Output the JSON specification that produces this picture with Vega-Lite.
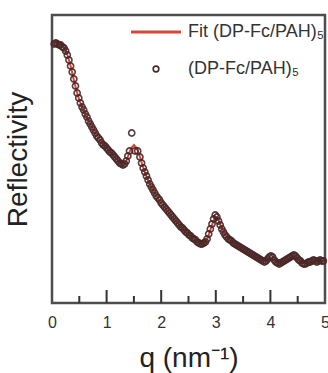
{
  "$schema": "https://vega.github.io/schema/vega-lite/v6.json",
  "width": 273,
  "height": 288,
  "autosize": {"type": "none"},
  "padding": {"left": 52, "top": 15, "right": 3, "bottom": 70},
  "background": "white",
  "config": {
    "view": {"stroke": "#4d4d4d", "strokeWidth": 2.5},
    "font": "Liberation Sans"
  },
  "layer": [
    {
      "data": {"values": [
        {"q":0.02,"r":260},{"q":0.05,"r":260},{"q":0.1,"r":259},{"q":0.15,"r":259},{"q":0.2,"r":257},{"q":0.25,"r":253},{"q":0.3,"r":245},{"q":0.35,"r":235},{"q":0.4,"r":223},{"q":0.45,"r":212},{"q":0.5,"r":203},{"q":0.55,"r":196},{"q":0.6,"r":190},{"q":0.65,"r":184},{"q":0.7,"r":179},{"q":0.75,"r":174},{"q":0.8,"r":169},{"q":0.85,"r":165},{"q":0.9,"r":161},{"q":0.95,"r":158},{"q":1.0,"r":155},{"q":1.05,"r":152},{"q":1.1,"r":149},{"q":1.15,"r":146},{"q":1.2,"r":143},{"q":1.25,"r":140},{"q":1.3,"r":138},{"q":1.35,"r":140},{"q":1.4,"r":148},{"q":1.45,"r":155},{"q":1.5,"r":158},{"q":1.55,"r":155},{"q":1.6,"r":148},{"q":1.65,"r":139},{"q":1.7,"r":131},{"q":1.75,"r":124},{"q":1.8,"r":118},{"q":1.85,"r":113},{"q":1.9,"r":108},{"q":1.95,"r":104},{"q":2.0,"r":100},{"q":2.1,"r":93},{"q":2.2,"r":86},{"q":2.3,"r":80},{"q":2.4,"r":74},{"q":2.5,"r":69},{"q":2.6,"r":64},{"q":2.7,"r":60},{"q":2.75,"r":59},{"q":2.8,"r":60},{"q":2.85,"r":65},{"q":2.9,"r":73},{"q":2.95,"r":81},{"q":3.0,"r":86},{"q":3.05,"r":83},{"q":3.1,"r":76},{"q":3.15,"r":70},{"q":3.2,"r":66},{"q":3.3,"r":61},{"q":3.4,"r":57},{"q":3.5,"r":54},{"q":3.6,"r":50},{"q":3.7,"r":47},{"q":3.8,"r":44},{"q":3.9,"r":42},{"q":4.0,"r":44},{"q":4.1,"r":42},{"q":4.2,"r":40},{"q":4.3,"r":43},{"q":4.4,"r":46},{"q":4.5,"r":44},{"q":4.6,"r":40},{"q":4.7,"r":40},{"q":4.8,"r":42},{"q":4.9,"r":42},{"q":5.0,"r":42}
      ]},
      "mark": {"type": "line", "strokeWidth": 2, "clip": true},
      "encoding": {
        "x": {
          "field": "q", "type": "quantitative",
          "scale": {"domain": [0, 5], "nice": false, "zero": false},
          "axis": {
            "values": [0, 1, 2, 3, 4, 5],
            "ticks": false,
            "domain": false,
            "grid": false,
            "labelFlush": false,
            "labelFont": "Liberation Sans",
            "labelFontSize": 16,
            "labelColor": "#333333",
            "labelPadding": 11,
            "title": "q (nm⁻¹)",
            "titleFont": "Liberation Sans",
            "titleFontSize": 28,
            "titleFontWeight": "normal",
            "titleColor": "#222222",
            "titlePadding": 14
          }
        },
        "y": {
          "field": "r", "type": "quantitative",
          "scale": {"domain": [0, 288], "nice": false},
          "axis": {
            "ticks": false, "labels": false, "domain": false, "grid": false,
            "title": "Reflectivity",
            "titleFont": "Liberation Sans",
            "titleFontSize": 28,
            "titleFontWeight": "normal",
            "titleColor": "#222222",
            "titlePadding": 20
          }
        },
        "color": {
          "datum": "Fit (DP-Fc/PAH)₅",
          "type": "nominal",
          "scale": {"domain": ["Fit (DP-Fc/PAH)₅", "(DP-Fc/PAH)₅"], "range": ["#d8473a", "#4a2828"]},
          "legend": {
            "title": null,
            "orient": "none",
            "legendX": 95,
            "legendY": 8,
            "padding": 0,
            "labelFont": "Liberation Sans",
            "labelFontSize": 18,
            "labelColor": "#333333",
            "symbolSize": 100,
            "rowPadding": 19,
            "labelOffset": 23,
            "encode": {
              "symbols": {
                "update": {
                  "shape": {"signal": "datum.value === 'Fit (DP-Fc/PAH)₅' ? 'stroke' : 'circle'"},
                  "size": {"signal": "datum.value === 'Fit (DP-Fc/PAH)₅' ? 2500 : 32"},
                  "strokeWidth": {"signal": "datum.value === 'Fit (DP-Fc/PAH)₅' ? 3 : 1.6"},
                  "fill": {"value": "transparent"}
                }
              }
            }
          }
        }
      }
    },
    {
      "data": {"values": [
        {"q":0.04,"r":259},{"q":0.07,"r":260},{"q":0.10,"r":259},{"q":0.13,"r":258},{"q":0.16,"r":258},{"q":0.19,"r":256},{"q":0.22,"r":255},{"q":0.25,"r":252},{"q":0.28,"r":248},{"q":0.31,"r":243},{"q":0.34,"r":237},{"q":0.37,"r":231},{"q":0.40,"r":224},{"q":0.43,"r":217},{"q":0.46,"r":210},{"q":0.49,"r":205},{"q":0.52,"r":200},{"q":0.55,"r":196},{"q":0.58,"r":193},{"q":0.61,"r":189},{"q":0.64,"r":186},{"q":0.67,"r":182},{"q":0.70,"r":179},{"q":0.73,"r":176},{"q":0.76,"r":173},{"q":0.79,"r":170},{"q":0.82,"r":167},{"q":0.85,"r":165},{"q":0.88,"r":163},{"q":0.91,"r":160},{"q":0.94,"r":158},{"q":0.97,"r":157},{"q":1.00,"r":155},{"q":1.03,"r":153},{"q":1.06,"r":151},{"q":1.09,"r":150},{"q":1.12,"r":148},{"q":1.15,"r":146},{"q":1.18,"r":144},{"q":1.21,"r":142},{"q":1.24,"r":140},{"q":1.27,"r":139},{"q":1.30,"r":138},{"q":1.33,"r":139},{"q":1.36,"r":142},{"q":1.39,"r":147},{"q":1.42,"r":152},{"q":1.46,"r":170},{"q":1.52,"r":152},{"q":1.57,"r":152},{"q":1.61,"r":146},{"q":1.64,"r":140},{"q":1.67,"r":135},{"q":1.70,"r":131},{"q":1.73,"r":127},{"q":1.76,"r":123},{"q":1.79,"r":119},{"q":1.82,"r":116},{"q":1.85,"r":113},{"q":1.88,"r":110},{"q":1.91,"r":107},{"q":1.94,"r":105},{"q":1.97,"r":103},{"q":2.00,"r":100},{"q":2.03,"r":98},{"q":2.06,"r":96},{"q":2.09,"r":94},{"q":2.12,"r":92},{"q":2.15,"r":90},{"q":2.18,"r":88},{"q":2.21,"r":86},{"q":2.24,"r":84},{"q":2.27,"r":82},{"q":2.30,"r":80},{"q":2.33,"r":78},{"q":2.36,"r":76},{"q":2.39,"r":75},{"q":2.42,"r":73},{"q":2.45,"r":71},{"q":2.48,"r":70},{"q":2.51,"r":68},{"q":2.54,"r":67},{"q":2.57,"r":65},{"q":2.60,"r":64},{"q":2.63,"r":63},{"q":2.66,"r":61},{"q":2.69,"r":60},{"q":2.72,"r":59},{"q":2.75,"r":59},{"q":2.78,"r":60},{"q":2.81,"r":61},{"q":2.84,"r":64},{"q":2.87,"r":69},{"q":2.90,"r":74},{"q":2.93,"r":79},{"q":2.96,"r":84},{"q":2.99,"r":88},{"q":3.02,"r":86},{"q":3.05,"r":82},{"q":3.08,"r":78},{"q":3.11,"r":74},{"q":3.14,"r":71},{"q":3.17,"r":68},{"q":3.20,"r":66},{"q":3.23,"r":64},{"q":3.26,"r":63},{"q":3.29,"r":62},{"q":3.32,"r":60},{"q":3.35,"r":59},{"q":3.38,"r":58},{"q":3.41,"r":57},{"q":3.44,"r":56},{"q":3.47,"r":55},{"q":3.50,"r":54},{"q":3.53,"r":53},{"q":3.56,"r":52},{"q":3.59,"r":51},{"q":3.62,"r":50},{"q":3.65,"r":49},{"q":3.68,"r":48},{"q":3.71,"r":47},{"q":3.74,"r":46},{"q":3.77,"r":45},{"q":3.80,"r":44},{"q":3.83,"r":43},{"q":3.86,"r":42},{"q":3.89,"r":41},{"q":3.92,"r":42},{"q":3.95,"r":44},{"q":3.98,"r":46},{"q":4.01,"r":47},{"q":4.04,"r":46},{"q":4.07,"r":43},{"q":4.10,"r":41},{"q":4.13,"r":40},{"q":4.16,"r":39},{"q":4.19,"r":40},{"q":4.22,"r":41},{"q":4.25,"r":42},{"q":4.28,"r":43},{"q":4.31,"r":44},{"q":4.34,"r":45},{"q":4.37,"r":46},{"q":4.40,"r":47},{"q":4.43,"r":48},{"q":4.46,"r":47},{"q":4.49,"r":45},{"q":4.52,"r":43},{"q":4.55,"r":42},{"q":4.58,"r":40},{"q":4.61,"r":39},{"q":4.64,"r":39},{"q":4.67,"r":40},{"q":4.70,"r":41},{"q":4.73,"r":41},{"q":4.76,"r":42},{"q":4.79,"r":43},{"q":4.82,"r":42},{"q":4.85,"r":41},{"q":4.88,"r":42},{"q":4.91,"r":43},{"q":4.94,"r":42},{"q":4.97,"r":42}
      ]},
      "mark": {"type": "point", "filled": false, "size": 38, "strokeWidth": 1.6, "opacity": 0.9},
      "encoding": {
        "x": {"field": "q", "type": "quantitative"},
        "y": {"field": "r", "type": "quantitative"},
        "color": {"datum": "(DP-Fc/PAH)₅", "type": "nominal"}
      }
    },
    {
      "data": {"values": [{"q": 1}, {"q": 2}, {"q": 3}, {"q": 4}]},
      "mark": {"type": "rule", "color": "#333333", "strokeWidth": 2},
      "encoding": {
        "x": {"field": "q", "type": "quantitative"},
        "y": {"datum": 0},
        "y2": {"datum": 13}
      }
    },
    {
      "data": {"values": [{"q": 0.5}, {"q": 1.5}, {"q": 2.5}, {"q": 3.5}, {"q": 4.5}]},
      "mark": {"type": "rule", "color": "#333333", "strokeWidth": 2},
      "encoding": {
        "x": {"field": "q", "type": "quantitative"},
        "y": {"datum": 0},
        "y2": {"datum": 7}
      }
    }
  ]
}
